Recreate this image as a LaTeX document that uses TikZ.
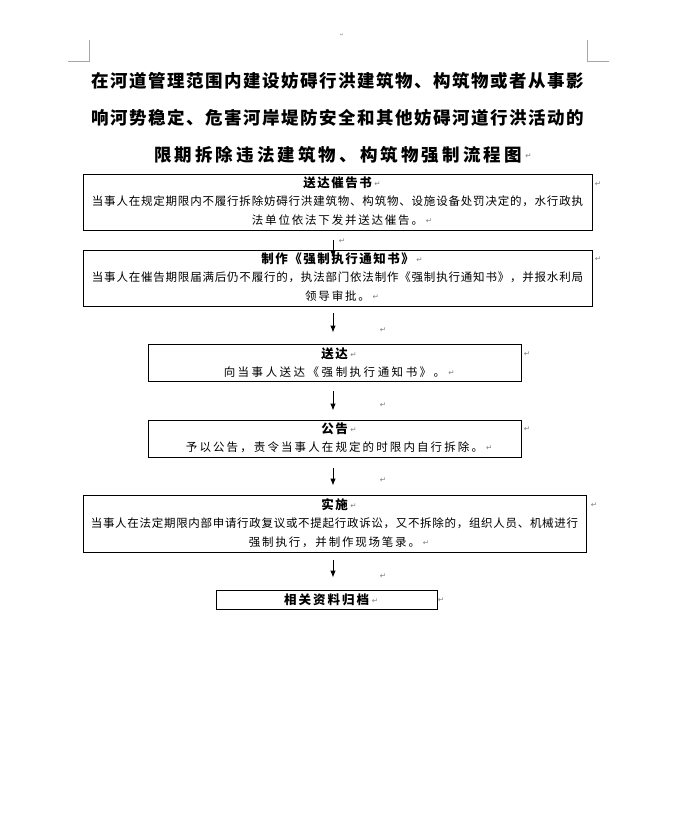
\documentclass[tikz,border=0pt]{standalone}
\usepackage{fontspec}
\newfontfamily\cjk{Noto Sans CJK SC}
\newfontfamily\markfont{DejaVu Sans}
\usetikzlibrary{arrows.meta}
\makeatletter
\newcommand\pitched[2]{\@tfor\pch:=#2\do{\makebox[#1]{\pch}}}
\makeatother
\tikzset{
 stepbox/.style={draw, line width=0.9pt, inner sep=0pt},
 ttl/.style={font=\cjk\bfseries\fontsize{17.5pt}{17.5pt}\selectfont, inner sep=0pt},
 hd/.style={font=\cjk\bfseries\fontsize{12.5pt}{12.5pt}\selectfont, inner sep=0pt},
 bd/.style={font=\cjk\fontsize{11.5pt}{11.5pt}\selectfont, inner sep=0pt},
 pm/.style={font=\markfont\fontsize{7.5pt}{7.5pt}\selectfont, text=black!50, inner sep=0pt, anchor=west, xshift=1.5pt, yshift=-1pt},
 pmabs/.style={font=\markfont\fontsize{7.5pt}{7.5pt}\selectfont, text=black!50, inner sep=0pt},
 arr/.style={-{Latex[length=7pt,width=5.5pt]}, line width=0.9pt},
 crop/.style={draw=gray!70, line width=0.8pt}
}
\begin{document}
\begin{tikzpicture}[x=1pt,y=-1pt]
\useasboundingbox (0,0) rectangle (683,829);
\fill[white] (0,0) rectangle (683,829);
% crop marks
\draw[crop] (68,61) -- (89,61) -- (89,40);
\draw[crop] (609,61) -- (587,61) -- (587,40);
\node[pmabs, font=\markfont\fontsize{4.5pt}{4.5pt}\selectfont] (top) at (342,35) {↵};
% title
\node[ttl] (t1) at (338,81) {\pitched{19pt}{在河道管理范围内建设妨碍行洪建筑物、构筑物或者从事影}};
\node[ttl] (t2) at (338,118) {\pitched{19pt}{响河势稳定、危害河岸堤防安全和其他妨碍河道行洪活动的}};
\node[ttl] (t3) at (338,155) {\pitched{20.6pt}{限期拆除违法建筑物、构筑物强制流程图}};
\node[pm] (t3m) at (t3.east) {↵};
% boxes
\node[stepbox, minimum width=509pt, minimum height=56pt] (b1) at (337.5,202) {};
\node[stepbox, minimum width=509pt, minimum height=56pt] (b2) at (337.5,278) {};
\node[stepbox, minimum width=373pt, minimum height=37pt] (b3) at (334.5,362.5) {};
\node[stepbox, minimum width=373pt, minimum height=37pt] (b4) at (334.5,438.5) {};
\node[stepbox, minimum width=503pt, minimum height=57pt] (b5) at (334.5,523.5) {};
\node[stepbox, minimum width=221pt, minimum height=19pt] (b6) at (326.5,599.5) {};
% box 1
\node[hd] (h1) at (337.5,183) {\pitched{14pt}{送达催告书}};
\node[pm] (h1m) at (h1.east) {↵};
\node[bd] (l1a) at (337.5,201) {\pitched{12.3pt}{当事人在规定期限内不履行拆除妨碍行洪建筑物、构筑物、设施设备处罚决定的，水行政执}};
\node[bd] (l1b) at (337.5,220) {\pitched{13.3pt}{法单位依法下发并送达催告。}};
\node[pm] (l1bm) at (l1b.east) {↵};
% box 2
\node[hd] (h2) at (337.5,259) {\pitched{14pt}{制作《强制执行通知书》}};
\node[pm] (h2m) at (h2.east) {↵};
\node[bd] (l2a) at (337.5,277) {\pitched{12.3pt}{当事人在催告期限届满后仍不履行的，执法部门依法制作《强制执行通知书》，并报水利局}};
\node[bd] (l2b) at (337.5,296) {\pitched{13.3pt}{领导审批。}};
\node[pm] (l2bm) at (l2b.east) {↵};
% box 3
\node[hd] (h3) at (334.5,354) {\pitched{14pt}{送达}};
\node[pm] (h3m) at (h3.east) {↵};
\node[bd] (l3) at (334.5,372) {\pitched{14pt}{向当事人送达《强制执行通知书》。}};
\node[pm] (l3m) at (l3.east) {↵};
% box 4
\node[hd] (h4) at (334.5,429) {\pitched{14pt}{公告}};
\node[pm] (h4m) at (h4.east) {↵};
\node[bd] (l4) at (334.5,447) {\pitched{13.6pt}{予以公告，责令当事人在规定的时限内自行拆除。}};
\node[pm] (l4m) at (l4.east) {↵};
% box 5
\node[hd] (h5) at (334.5,505) {\pitched{14pt}{实施}};
\node[pm] (h5m) at (h5.east) {↵};
\node[bd] (l5a) at (334.5,523) {\pitched{12.2pt}{当事人在法定期限内部申请行政复议或不提起行政诉讼，又不拆除的，组织人员、机械进行}};
\node[bd] (l5b) at (334.5,542) {\pitched{13.3pt}{强制执行，并制作现场笔录。}};
\node[pm] (l5bm) at (l5b.east) {↵};
% box 6
\node[hd] (h6) at (326.5,600) {\pitched{14.5pt}{相关资料归档}};
\node[pm] (h6m) at (h6.east) {↵};
% paragraph marks to the right of boxes
\node[pmabs] (r1) at (598,184) {↵};
\node[pmabs] (r2) at (598,259) {↵};
\node[pmabs] (r3) at (527,354) {↵};
\node[pmabs] (r4) at (527,429) {↵};
\node[pmabs] (r5) at (594,505) {↵};
\node[pmabs] (r6) at (441,600) {↵};
% paragraph marks beside arrows
\node[pmabs] (a1m) at (342,241) {↵};
\node[pmabs] (a2m) at (383,330) {↵};
\node[pmabs] (a3m) at (383,405) {↵};
\node[pmabs] (a4m) at (383,480) {↵};
\node[pmabs] (a5m) at (383,576) {↵};
% arrows
\coordinate (ax) at (333,0);
\draw[arr, shorten <=10pt, shorten >=-8pt] (b1.south -| ax) -- (b2.north -| ax);
\draw[arr, shorten <=7pt, shorten >=11pt] (b2.south -| ax) -- (b3.north -| ax);
\draw[arr, shorten <=10pt, shorten >=9pt] (b3.south -| ax) -- (b4.north -| ax);
\draw[arr, shorten <=11pt, shorten >=9pt] (b4.south -| ax) -- (b5.north -| ax);
\draw[arr, shorten <=8pt, shorten >=12pt] (b5.south -| ax) -- (b6.north -| ax);
\end{tikzpicture}
\end{document}
